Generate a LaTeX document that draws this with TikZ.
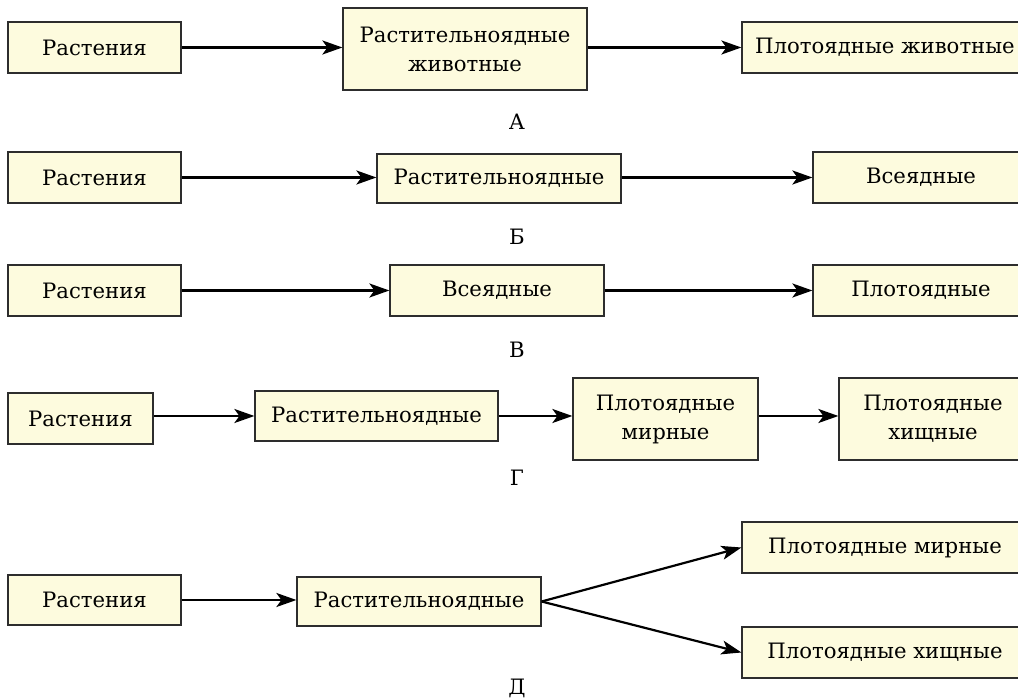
\documentclass[tikz,border=0pt]{standalone}
\usepackage{fontspec}
\setmainfont{DejaVu Serif}
\usetikzlibrary{arrows.meta}
\definecolor{boxfill}{RGB}{253,251,222}
\definecolor{boxline}{RGB}{45,45,45}
\tikzset{
  box/.style={draw=boxline, line width=0.6pt, fill=boxfill, inner sep=0pt, align=center, font=\fontsize{10.6}{14.5}\selectfont},
  arr/.style={line width=1.1pt, -{Stealth[length=10pt,width=7pt,inset=2.5pt]}},
  lbl/.style={inner sep=0pt, font=\fontsize{10.6}{12}\selectfont}
}
\begin{document}
\begin{tikzpicture}[x=0.5pt,y=-0.5pt]
\useasboundingbox (0,0) rectangle (1018,699);
% Row A
\node[box, minimum width=86.5pt, minimum height=25.5pt] (a1) at (94.5,47.5) {Растения};
\node[box, minimum width=122pt, minimum height=41pt] (a2) at (465,49) {Растительноядные\\животные};
\node[box, minimum width=143pt, minimum height=25.5pt] (a3) at (885,47.5) {Плотоядные животные};
\draw[arr] (a1.east) -- (a1.east -| a2.west);
\draw[arr] (a1.east -| a2.east) -- (a1.east -| a3.west);
\node[lbl] (la) at (517,122) {А};
% Row B
\node[box, minimum width=86.5pt, minimum height=25.5pt] (b1) at (94.5,177.5) {Растения};
\node[box, minimum width=122pt, minimum height=24.5pt] (b2) at (499,178.5) {Растительноядные};
\node[box, minimum width=108pt, minimum height=25.5pt] (b3) at (921,177.5) {Всеядные};
\draw[arr] (b1.east) -- (b1.east -| b2.west);
\draw[arr] (b1.east -| b2.east) -- (b3.west);
\node[lbl] (lb) at (517,237) {Б};
% Row V
\node[box, minimum width=86.5pt, minimum height=25.5pt] (c1) at (94.5,290.5) {Растения};
\node[box, minimum width=107pt, minimum height=25.5pt] (c2) at (497,290.5) {Всеядные};
\node[box, minimum width=108pt, minimum height=25.5pt] (c3) at (921,290.5) {Плотоядные};
\draw[arr] (c1) -- (c2);
\draw[arr] (c2) -- (c3);
\node[lbl] (lc) at (517,350) {В};
% Row G
\node[box, minimum width=72.5pt, minimum height=25.5pt] (d1) at (80.5,418.5) {Растения};
\node[box, minimum width=121.5pt, minimum height=25pt] (d2) at (376.5,416) {Растительноядные};
\node[box, minimum width=92.5pt, minimum height=41pt] (d3) at (665.5,419) {Плотоядные\\мирные};
\node[box, minimum width=94pt, minimum height=41pt] (d4) at (933,419) {Плотоядные\\хищные};
\draw[arr] (d1.east |- d2.center) -- (d2.west);
\draw[arr] (d2.east) -- (d2.east -| d3.west);
\draw[arr] (d2.east -| d3.east) -- (d2.east -| d4.west);
\node[lbl] (ld) at (517,478) {Г};
% Row D
\node[box, minimum width=86.5pt, minimum height=25pt] (e1) at (94.5,600) {Растения};
\node[box, minimum width=122pt, minimum height=24.5pt] (e2) at (419,601.5) {Растительноядные};
\node[box, minimum width=143pt, minimum height=25.5pt] (e3) at (885,547.5) {Плотоядные мирные};
\node[box, minimum width=143pt, minimum height=25.5pt] (e4) at (885,652.5) {Плотоядные хищные};
\draw[arr] (e1.east) -- (e1.east -| e2.west);
\draw[arr] (e2.east) -- (e3.west);
\draw[arr] (e2.east) -- (e4.west);
\node[lbl] (le) at (517,688) {Д};
\end{tikzpicture}
\end{document}
